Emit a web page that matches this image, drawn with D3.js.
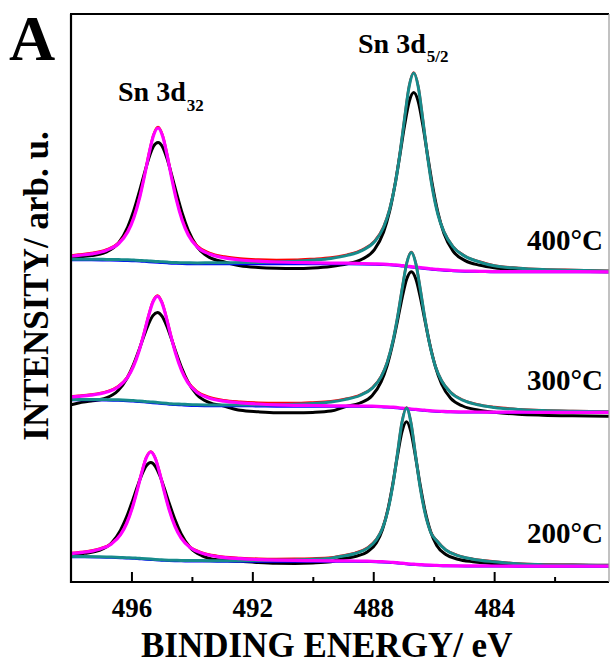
<!DOCTYPE html>
<html><head><meta charset="utf-8">
<script src="https://cdn.jsdelivr.net/npm/d3@7"></script>
<style>html,body{margin:0;padding:0;background:#fff;} svg{display:block;}</style>
</head><body><div id="chart"></div>
<script>
// ---- Data (binding energy in eV, intensity in arb. units, already stacked) ----
const energy400 = [498, 497.75, 497.32, 496.82, 496.42, 496.12, 495.92, 495.72, 495.57, 495.42, 495.27, 495.12, 494.97, 494.82, 494.67, 494.52, 494.32, 494.12, 493.82, 493.42, 492.92, 492.4, 491.8, 491.2, 490.6, 490.0, 489.4, 488.86, 488.36, 487.96, 487.66, 487.46, 487.26, 487.11, 486.96, 486.81, 486.66, 486.51, 486.36, 486.21, 486.06, 485.86, 485.66, 485.36, 484.96, 484.46, 484.0, 483.2, 482.4, 481.4, 480.2];
const raw400 = [324.6, 325.1, 326.4, 330.1, 339.3, 355.2, 371.7, 392.3, 408.9, 424.3, 435.7, 439.6, 435.1, 423.2, 407.2, 390.0, 368.7, 351.6, 334.8, 324.6, 320.0, 316.2, 314.5, 313.8, 313.6, 314.1, 315.6, 318.3, 323.0, 332.3, 349.7, 370.5, 400.8, 428.6, 457.2, 480.4, 489.4, 480.2, 456.9, 428.1, 400.1, 369.5, 348.5, 330.8, 321.4, 316.7, 314.3, 312.3, 311.4, 310.8, 310.3];
const background400 = [322, 322, 322, 321.8, 321.6, 321.3, 321, 320.7, 320.4, 320.1, 319.8, 319.5, 319.2, 318.9, 318.6, 318.4, 318.2, 318.1, 318, 318, 318, 318, 318, 318, 318, 318, 318, 318, 317.8, 317.5, 317.2, 316.9, 316.5, 316.1, 315.6, 315.1, 314.6, 314.1, 313.6, 313.1, 312.6, 312.1, 311.6, 311.1, 310.6, 310.3, 310, 310, 310, 310, 310];
const peak32_400 = [3.8, 4.6, 6.1, 10.0, 16.9, 28.9, 43.3, 64.7, 85.4, 107.9, 126.7, 134.5, 126.7, 107.9, 85.4, 64.7, 43.3, 28.9, 16.9, 10.0, 6.1, 4.0, 2.8, 2.0, 1.5, 1.2, 0.9, 0.8, 0.7, 0.7, 0.7, 0.6, 0.6, 0.6, 0.6, 0.6, 0.5, 0.5, 0.5, 0.5, 0.5, 0.5, 0.5, 0.4, 0.4, 0.4, 0.4, 0.3, 0.3, 0.3, 0.2];
const peak52_400 = [0.8, 0.8, 0.8, 0.8, 0.8, 0.9, 0.9, 0.9, 0.9, 0.9, 0.9, 1.0, 1.0, 1.0, 1.0, 1.0, 1.1, 1.1, 1.1, 1.2, 1.3, 1.4, 1.6, 2.1, 2.7, 3.9, 5.6, 8.6, 13.8, 22.7, 37.3, 55.4, 84.0, 113.9, 148.9, 180.8, 194.4, 180.8, 148.9, 113.9, 84.0, 55.4, 38.5, 24.0, 15.0, 9.5, 6.2, 3.8, 2.5, 1.7, 1.1];

const energy300 = [498, 497.75, 497.34, 496.84, 496.44, 496.14, 495.94, 495.74, 495.59, 495.44, 495.29, 495.14, 494.99, 494.84, 494.69, 494.54, 494.34, 494.14, 493.84, 493.44, 492.94, 492.4, 491.8, 491.2, 490.6, 490.0, 489.4, 488.94, 488.44, 488.04, 487.74, 487.54, 487.34, 487.19, 487.04, 486.89, 486.74, 486.59, 486.44, 486.29, 486.14, 485.94, 485.74, 485.44, 485.04, 484.54, 484.0, 483.2, 482.4, 481.4, 480.2];
const raw300 = [177.1, 179.0, 180.9, 184.0, 191.5, 204.0, 216.8, 232.8, 245.7, 257.6, 266.3, 269.4, 265.8, 256.6, 244.3, 230.8, 214.2, 200.8, 187.6, 179.6, 175.9, 171.7, 170.2, 169.3, 169.2, 169.6, 170.9, 175.2, 179.0, 186.3, 200.1, 216.5, 240.5, 262.4, 284.9, 303.2, 310.3, 302.9, 284.3, 261.5, 239.2, 214.9, 198.0, 183.7, 176.0, 172.0, 169.7, 167.7, 166.8, 166.2, 165.8];
const background300 = [182, 182, 182, 181.8, 181.5, 181.1, 180.7, 180.3, 179.9, 179.5, 179.1, 178.7, 178.3, 177.9, 177.5, 177.2, 176.9, 176.6, 176.3, 176.1, 176, 176, 175.8, 175.6, 175.5, 175.5, 175.5, 175.5, 175.4, 175.2, 175, 174.7, 174.3, 173.9, 173.5, 173, 172.6, 172.2, 171.8, 171.4, 171, 170.6, 170.3, 170, 169.8, 169.7, 169.6, 169.5, 169.5, 169.5, 169.5];
const peak32_300 = [3.0, 3.6, 4.8, 7.9, 13.5, 23.0, 34.5, 51.5, 67.9, 85.8, 100.8, 107.0, 100.8, 85.8, 67.9, 51.5, 34.5, 23.0, 13.5, 7.9, 4.8, 3.2, 2.2, 1.6, 1.2, 1.0, 0.7, 0.6, 0.6, 0.6, 0.5, 0.5, 0.5, 0.5, 0.5, 0.5, 0.4, 0.4, 0.4, 0.4, 0.4, 0.4, 0.4, 0.3, 0.3, 0.3, 0.3, 0.3, 0.2, 0.2, 0.2];
const peak52_300 = [0.6, 0.6, 0.6, 0.6, 0.7, 0.7, 0.7, 0.7, 0.7, 0.7, 0.8, 0.8, 0.8, 0.8, 0.8, 0.8, 0.9, 0.9, 0.9, 1.0, 1.0, 1.1, 1.3, 1.7, 2.2, 3.1, 4.6, 6.9, 11.1, 18.4, 30.1, 44.7, 67.8, 92.0, 120.3, 146.0, 157.0, 146.0, 120.3, 92.0, 67.8, 44.7, 31.0, 19.5, 12.0, 7.5, 5.0, 3.0, 2.0, 1.3, 0.8];

const energy200 = [498, 497.75, 497.56, 497.06, 496.66, 496.36, 496.16, 495.96, 495.81, 495.66, 495.51, 495.36, 495.21, 495.06, 494.91, 494.76, 494.56, 494.36, 494.06, 493.66, 493.16, 492.4, 491.8, 491.2, 490.6, 490.0, 489.4, 489.1, 488.6, 488.2, 487.9, 487.7, 487.5, 487.35, 487.2, 487.05, 486.9, 486.75, 486.6, 486.45, 486.3, 486.1, 485.9, 485.6, 485.2, 484.7, 484.0, 483.2, 482.4, 481.4, 480.2];
const raw200 = [27.0, 27.5, 28.6, 31.6, 39.1, 51.9, 65.1, 81.6, 94.9, 107.2, 116.2, 119.4, 115.7, 106.2, 93.5, 79.6, 62.4, 48.4, 34.6, 26.2, 22.2, 20.7, 19.4, 18.7, 18.6, 19.0, 20.2, 22.9, 25.5, 30.0, 38.9, 52.1, 74.8, 98.6, 125.9, 150.1, 160.3, 149.7, 125.1, 97.4, 73.2, 50.2, 36.6, 27.5, 22.8, 20.2, 18.2, 17.4, 17.1, 16.9, 16.7];
const background200 = [25, 25, 25, 24.8, 24.5, 24.1, 23.8, 23.5, 23.2, 22.9, 22.6, 22.3, 22.0, 21.7, 21.4, 21.2, 21.0, 20.9, 20.8, 20.7, 20.6, 20.5, 20.5, 20.5, 20.5, 20.5, 20.5, 20.5, 20.4, 20.2, 20.0, 19.8, 19.5, 19.2, 18.8, 18.4, 18.0, 17.6, 17.3, 17.0, 16.7, 16.4, 16.2, 16.0, 15.9, 15.8, 15.7, 15.6, 15.6, 15.6, 15.6];
const peak32_200 = [3.4, 4.2, 4.8, 8.0, 13.6, 23.2, 34.7, 51.8, 68.4, 86.4, 101.5, 107.7, 101.5, 86.4, 68.4, 51.8, 34.7, 23.2, 13.6, 8.0, 4.8, 2.8, 1.9, 1.4, 1.1, 0.9, 0.7, 0.6, 0.6, 0.6, 0.5, 0.5, 0.5, 0.5, 0.5, 0.5, 0.4, 0.4, 0.4, 0.4, 0.4, 0.4, 0.4, 0.3, 0.3, 0.3, 0.3, 0.3, 0.2, 0.2, 0.2];
const peak52_200 = [0.5, 0.5, 0.5, 0.5, 0.5, 0.5, 0.5, 0.6, 0.6, 0.6, 0.6, 0.6, 0.6, 0.6, 0.6, 0.6, 0.7, 0.7, 0.7, 0.7, 0.7, 0.8, 0.9, 1.2, 1.6, 2.2, 3.3, 5.0, 8.1, 13.4, 22.2, 33.4, 54.0, 78.0, 109.4, 141.2, 156.0, 141.2, 109.4, 78.0, 54.0, 33.4, 25.0, 16.0, 10.5, 7.0, 4.5, 2.6, 1.7, 1.1, 0.7];

const temperatureLabels = ["400°C", "300°C", "200°C"];
const labelLevels = [332, 192, 39];   // intensity level of each temperature label
const majorTicks = [496, 492, 488, 484];
const minorTicks = [494, 490, 486, 482];
const xTitle = "BINDING ENERGY/ eV";
const yTitle = "INTENSITY/ arb. u.";

// ---- Layout ----
const W = 611, H = 669;
const frame = {left: 71, right: 609, top: 14, bottom: 582};
const FONT = "'Liberation Serif','Times New Roman',Times,serif";

const svg = d3.select('#chart').append('svg').attr('width', W).attr('height', H)
  .style('font-family', FONT);

const x = d3.scaleLinear().domain([498, 480.2]).range([frame.left, frame.right]);
const y = d3.scaleLinear().domain([0, 568]).range([frame.bottom, frame.top]);

svg.append('defs').append('clipPath').attr('id', 'clip')
  .append('rect').attr('x', frame.left).attr('y', frame.top)
  .attr('width', frame.right - frame.left).attr('height', frame.bottom - frame.top);

const spectra = [
  {E: energy400, raw: raw400, bg: background400, p32: peak32_400, p52: peak52_400},
  {E: energy300, raw: raw300, bg: background300, p32: peak32_300, p52: peak52_300},
  {E: energy200, raw: raw200, bg: background200, p32: peak32_200, p52: peak52_200}
];

const line = d3.line().x(d => x(d[0])).y(d => y(d[1])).curve(d3.curveMonotoneX);
const plot = svg.append('g').attr('clip-path', 'url(#clip)');

spectra.forEach(s => {
  const rawPts = s.E.map((e, i) => [e, s.raw[i]]);
  const envPts = s.E.map((e, i) => [e, s.bg[i] + s.p32[i] + s.p52[i]]);
  const bgPts = s.E.map((e, i) => [e, s.bg[i]]);
  const f52 = s.E.map((e, i) => [e, s.bg[i] + s.p52[i]]);
  const f32 = s.E.map((e, i) => [e, s.bg[i] + s.p32[i]]);
  const layers = [
    [rawPts, '#000000', 3],
    [envPts, '#ff0000', 2.5],
    [bgPts, '#0000ff', 2.5],
    [f52, '#178b8b', 3],
    [f32, '#ff00ff', 3.2]
  ];
  layers.forEach(([pts, col, w]) => {
    plot.append('path').datum(pts).attr('d', line)
      .attr('fill', 'none').attr('stroke', col).attr('stroke-width', w)
      .attr('stroke-linejoin', 'round').attr('stroke-linecap', 'round');
  });
});

// ---- Axes / frame ----
const major = d3.axisBottom(x).tickValues(majorTicks).tickSize(-10).tickPadding(16).tickFormat(d3.format('d'));
const minor = d3.axisBottom(x).tickValues(minorTicks).tickSize(-5).tickFormat('');
const gMaj = svg.append('g').attr('transform', `translate(0,${frame.bottom})`).call(major);
const gMin = svg.append('g').attr('transform', `translate(0,${frame.bottom})`).call(minor);
[gMaj, gMin].forEach(g => {
  g.select('.domain').remove();
  g.selectAll('.tick line').attr('stroke', '#000').attr('stroke-width', 2);
});
gMaj.selectAll('.tick text').attr('font-family', FONT).attr('font-size', 27)
  .attr('font-weight', 'bold').attr('fill', '#000');

// frame lines
svg.append('line').attr('x1', frame.left).attr('x2', frame.left).attr('y1', frame.top).attr('y2', frame.bottom + 1)
  .attr('stroke', '#000').attr('stroke-width', 2.2);
svg.append('line').attr('x1', frame.left - 1).attr('x2', frame.right).attr('y1', frame.bottom).attr('y2', frame.bottom)
  .attr('stroke', '#000').attr('stroke-width', 2.2);
svg.append('line').attr('x1', frame.left - 1).attr('x2', frame.right).attr('y1', frame.top).attr('y2', frame.top)
  .attr('stroke', '#000').attr('stroke-width', 2.2);
svg.append('line').attr('x1', frame.right).attr('x2', frame.right).attr('y1', frame.top).attr('y2', frame.bottom)
  .attr('stroke', '#999').attr('stroke-width', 1.2);

// axis titles
svg.append('text').attr('x', 141).attr('y', 657).attr('font-size', 35).attr('font-weight', 'bold')
  .attr('fill', '#000').text(xTitle);
svg.append('text').attr('transform', 'translate(48,286) rotate(-90)').attr('text-anchor', 'middle')
  .attr('font-size', 35).attr('font-weight', 'bold').attr('fill', '#000').text(yTitle);

// panel letter
svg.append('text').attr('x', 9).attr('y', 60).attr('font-size', 64).attr('font-weight', 'bold')
  .attr('fill', '#000').text('A');

// peak labels
const lab1 = svg.append('text').attr('x', 358).attr('y', 53).attr('font-size', 28).attr('font-weight', 'bold').attr('fill', '#000');
lab1.append('tspan').text('Sn 3d');
lab1.append('tspan').attr('font-size', 17).attr('dy', 9).attr('dx', 1).text('5/2');
const lab2 = svg.append('text').attr('x', 118).attr('y', 101).attr('font-size', 28).attr('font-weight', 'bold').attr('fill', '#000');
lab2.append('tspan').text('Sn 3d');
lab2.append('tspan').attr('font-size', 17).attr('dy', 10).attr('dx', 1).text('32');

// temperature labels
temperatureLabels.forEach((t, i) => {
  svg.append('text').attr('x', 603).attr('y', y(labelLevels[i])).attr('text-anchor', 'end')
    .attr('font-size', 29).attr('font-weight', 'bold').attr('fill', '#000').text(t);
});
</script>
</body></html>
